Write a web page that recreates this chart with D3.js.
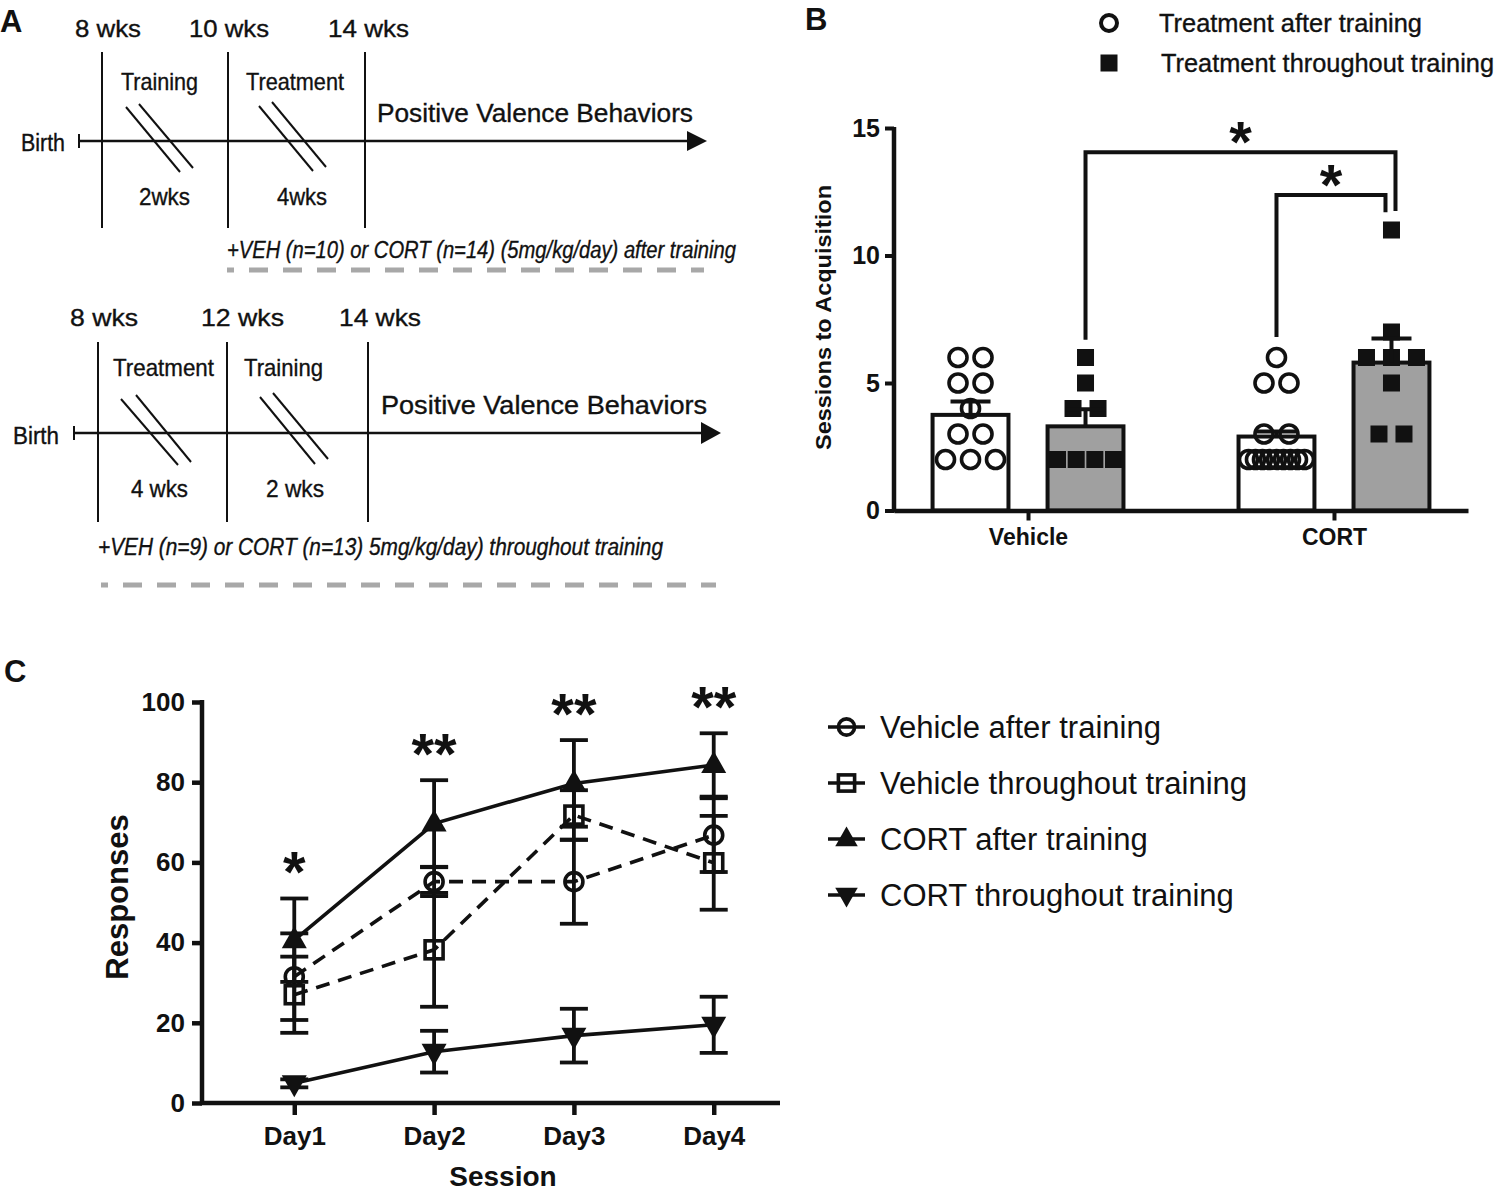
<!DOCTYPE html>
<html><head><meta charset="utf-8">
<script src="https://cdn.jsdelivr.net/npm/d3@7/dist/d3.min.js"></script>
<style>
html,body{margin:0;padding:0;background:#fff;}
svg{display:block;font-family:"Liberation Sans",Arial,Helvetica,sans-serif;}
</style></head><body>
<svg id="fig" width="1495" height="1192"></svg>
<script>
// ================= DATA =================
// Panel A (schematic)
const schemeStart = "Birth";
const schemeOutcome = "Positive Valence Behaviors";
const schemeTopWeeks = ["8 wks", "10 wks", "14 wks"];
const schemeTopPhases = ["Training", "Treatment"];
const schemeTopDurations = ["2wks", "4wks"];
const schemeTopNote = "+VEH (n=10) or CORT (n=14) (5mg/kg/day) after training";
const schemeBottomWeeks = ["8 wks", "12 wks", "14 wks"];
const schemeBottomPhases = ["Treatment", "Training"];
const schemeBottomDurations = ["4 wks", "2 wks"];
const schemeBottomNote = "+VEH (n=9) or CORT (n=13) 5mg/kg/day) throughout training";

// Panel B
const groupsB = ["Vehicle", "CORT"];
const seriesB = ["Treatment after training", "Treatment throughout training"];
const meanVehicleB = [3.75, 3.3];
const meanCortB = [2.9, 5.8];
const semVehicleB = [0.52, 0.67];
const semCortB = [0.2, 0.95];
const pointsVehicleAfterB = [6, 6, 5, 5, 4, 3, 3, 2, 2, 2];
const pointsVehicleThroughoutB = [6, 5, 4, 4, 2, 2, 2, 2];
const pointsCortAfterB = [6, 5, 5, 3, 3, 2, 2, 2, 2, 2, 2, 2, 2, 2];
const pointsCortThroughoutB = [11, 7, 6, 6, 6, 5, 3, 3];
const ticksB = [0, 5, 10, 15];
const yLabelB = "Sessions to Acquisition";
// significance brackets: [group, series] -> [group, series]
const sigFromB = [["Vehicle", "Treatment throughout training"], ["CORT", "Treatment after training"]];
const sigToB = [["CORT", "Treatment throughout training"], ["CORT", "Treatment throughout training"]];
const sigLevelB = [14.05, 12.37];
const sigFromBottomB = [6.7, 6.8];
const sigToBottomB = [11.75, 11.7];
const sigLabelB = ["*", "*"];

// Panel C
const daysC = ["Day1", "Day2", "Day3", "Day4"];
const seriesC = ["Vehicle after training", "Vehicle throughout training", "CORT after training", "CORT throughout training"];
const meanVehAfterC = [31.5, 55.2, 55.2, 66.8];
const semVehAfterC = [10.8, 3.6, 10.5, 9.2];
const meanVehThroughC = [27.0, 38.2, 71.8, 59.9];
const semVehThroughC = [9.5, 14.2, 6.2, 11.7];
const meanCortAfterC = [40.6, 69.7, 79.7, 84.3];
const semCortAfterC = [10.4, 10.8, 10.8, 7.9];
const meanCortThroughC = [4.9, 12.8, 16.8, 19.5];
const semCortThroughC = [1.0, 5.2, 6.7, 7.0];
const ticksC = [0, 20, 40, 60, 80, 100];
const sigC = ["*", "**", "**", "**"];
const xLabelC = "Session";
const yLabelC = "Responses";

// ================= DRAWING =================
const svg = d3.select("#fig");
const ink = "#111";

function fitText(g, s, x0, x1, baseline, size, opts = {}) {
  const t = g.append("text").attr("x", x0).attr("y", baseline)
    .attr("font-size", size).attr("fill", ink).text(s);
  if (opts.italic) t.attr("font-style", "italic");
  if (opts.bold) t.attr("font-weight", "bold");
  if (opts.heavy) t.attr("stroke", ink).attr("stroke-width", 0.35);
  t.attr("textLength", x1 - x0).attr("lengthAdjust", "spacingAndGlyphs");
  return t;
}

// panel letters
[["A", 0, 32], ["B", 805, 30], ["C", 4, 682]].forEach(([s, x, y]) =>
  svg.append("text").attr("x", x).attr("y", y).attr("font-size", 31)
    .attr("font-weight", "bold").attr("fill", ink).text(s));

// ---------- Panel A ----------
function drawScheme(L, weeks, phases, durations, note) {
  const g = svg.append("g");
  L.lineX.forEach(x => g.append("line").attr("x1", x).attr("x2", x)
    .attr("y1", L.lineY[0]).attr("y2", L.lineY[1]).attr("stroke", ink).attr("stroke-width", 2));
  g.append("line").attr("x1", L.birthX).attr("x2", L.arrowBase + 2)
    .attr("y1", L.axisY).attr("y2", L.axisY).attr("stroke", ink).attr("stroke-width", 2.5);
  g.append("line").attr("x1", L.birthX).attr("x2", L.birthX)
    .attr("y1", L.axisY - 7).attr("y2", L.axisY + 7).attr("stroke", ink).attr("stroke-width", 2);
  g.append("path").attr("d", `M${L.arrowBase},${L.axisY - L.arrowHalf}L${L.arrowTip},${L.axisY}L${L.arrowBase},${L.axisY + L.arrowHalf}Z`)
    .attr("fill", ink);
  L.slashes.forEach(s => g.append("line").attr("x1", s[0]).attr("y1", s[1]).attr("x2", s[2]).attr("y2", s[3])
    .attr("stroke", ink).attr("stroke-width", 2));
  const h = { heavy: true };
  weeks.forEach((w, i) => fitText(g, w, L.weekBox[i][0], L.weekBox[i][1], L.weekY, 24, h));
  phases.forEach((w, i) => fitText(g, w, L.phaseBox[i][0], L.phaseBox[i][1], L.phaseY, 24, h));
  durations.forEach((w, i) => fitText(g, w, L.durBox[i][0], L.durBox[i][1], L.durY, 24, h));
  fitText(g, schemeStart, L.birthBox[0], L.birthBox[1], L.birthY, 23, h);
  fitText(g, schemeOutcome, L.outBox[0], L.outBox[1], L.outY, 25, h);
  fitText(g, note, L.noteBox[0], L.noteBox[1], L.noteY, 23, { italic: true, heavy: true });
  g.append("line").attr("x1", L.dash[0]).attr("x2", L.dash[1]).attr("y1", L.dash[2]).attr("y2", L.dash[2])
    .attr("stroke", "#a8a8a8").attr("stroke-width", 5).attr("stroke-dasharray", "19,15").attr("stroke-dashoffset", 12);
}

drawScheme({
  lineX: [102, 228, 365], lineY: [52, 228], axisY: 141, birthX: 79,
  arrowBase: 687, arrowTip: 707, arrowHalf: 10,
  slashes: [[126, 107, 180, 172], [139, 104, 193, 168], [259, 106, 313, 171], [272, 102, 326, 167]],
  weekBox: [[75, 141], [189, 269], [328, 409]], weekY: 37,
  phaseBox: [[121, 198], [246, 344]], phaseY: 90,
  durBox: [[139, 190], [277, 327]], durY: 205,
  birthBox: [21, 65], birthY: 151,
  outBox: [377, 693], outY: 122,
  noteBox: [227, 736], noteY: 258,
  dash: [227, 704, 270]
}, schemeTopWeeks, schemeTopPhases, schemeTopDurations, schemeTopNote);

drawScheme({
  lineX: [98, 227, 368], lineY: [342, 522], axisY: 433, birthX: 74,
  arrowBase: 701, arrowTip: 721, arrowHalf: 11,
  slashes: [[121, 399, 178, 465], [136, 395, 191, 462], [260, 397, 315, 464], [273, 393, 328, 459]],
  weekBox: [[70, 138], [201, 284], [339, 421]], weekY: 326,
  phaseBox: [[113, 214], [244, 323]], phaseY: 376,
  durBox: [[131, 188], [266, 324]], durY: 497,
  birthBox: [13, 59], birthY: 444,
  outBox: [381, 707], outY: 414,
  noteBox: [98, 663], noteY: 555,
  dash: [101, 716, 585]
}, schemeBottomWeeks, schemeBottomPhases, schemeBottomDurations, schemeBottomNote);

// ---------- Panel B ----------
const gB = svg.append("g");
const yB = d3.scaleLinear().domain([0, 15]).range([510.5, 128]);
const xB = d3.scalePoint().domain(groupsB).range([894, 1468]).padding(0.438);
const xSubB = d3.scaleBand().domain(seriesB).range([-115, 115]).paddingInner(0.34).paddingOuter(0.17);
const fillB = d3.scaleOrdinal().domain(seriesB).range(["#ffffff", "#a0a0a0"]);
const meansB = { Vehicle: meanVehicleB, CORT: meanCortB };
const semsB = { Vehicle: semVehicleB, CORT: semCortB };
const pointsB = {
  Vehicle: [pointsVehicleAfterB, pointsVehicleThroughoutB],
  CORT: [pointsCortAfterB, pointsCortThroughoutB]
};
const cx = (g, s) => xB(g) + xSubB(s) + xSubB.bandwidth() / 2;

// bars
const barRows = groupsB.flatMap(g => seriesB.map((s, i) => ({ g, s, mean: meansB[g][i], sem: semsB[g][i], pts: pointsB[g][i] })));
gB.selectAll("rect.bar").data(barRows).join("rect").attr("class", "bar")
  .attr("x", d => xB(d.g) + xSubB(d.s)).attr("width", xSubB.bandwidth())
  .attr("y", d => yB(d.mean)).attr("height", d => yB(0) - yB(d.mean))
  .attr("fill", d => fillB(d.s)).attr("stroke", ink).attr("stroke-width", 4);

// scatter points (values with equal y spread symmetrically)
function spread(vals, maxW, step) {
  const counts = d3.rollup(vals, v => v.length, v => v);
  const seen = new Map();
  return vals.map(v => {
    const n = counts.get(v), k = seen.get(v) || 0; seen.set(v, k + 1);
    if (n === 1) return 0;
    const st = Math.min(step, maxW / (n - 1));
    return (k - (n - 1) / 2) * st;
  });
}
barRows.forEach(d => {
  const offs = spread(d.pts, 56, 25);
  const c = cx(d.g, d.s);
  d.pts.forEach((v, i) => {
    if (d.s === seriesB[0]) {
      gB.append("circle").attr("cx", c + offs[i]).attr("cy", yB(v)).attr("r", 9)
        .attr("fill", "none").attr("stroke", ink).attr("stroke-width", 3.6);
    } else {
      gB.append("rect").attr("x", c + offs[i] - 8.5).attr("y", yB(v) - 8.5)
        .attr("width", 17).attr("height", 17).attr("fill", ink);
    }
  });
});
// error bars
barRows.forEach(d => {
  const c = cx(d.g, d.s);
  gB.append("line").attr("x1", c).attr("x2", c).attr("y1", yB(d.mean)).attr("y2", yB(d.mean + d.sem))
    .attr("stroke", ink).attr("stroke-width", 4);
  gB.append("line").attr("x1", c - 20).attr("x2", c + 20).attr("y1", yB(d.mean + d.sem)).attr("y2", yB(d.mean + d.sem))
    .attr("stroke", ink).attr("stroke-width", 4);
});

// axes
const yAxB = gB.append("g").attr("transform", "translate(894,0)")
  .call(d3.axisLeft(yB).tickValues(ticksB).tickSize(9).tickSizeOuter(0).tickPadding(5).tickFormat(d3.format("d")));
yAxB.select(".domain").attr("stroke", ink).attr("stroke-width", 4.5).attr("d", `M0,${yB(0) + 2}V${yB(15) - 1}`);
yAxB.selectAll(".tick line").attr("stroke", ink).attr("stroke-width", 4);
yAxB.selectAll(".tick text").attr("font-size", 25).attr("font-weight", "bold").attr("fill", ink)
  .attr("font-family", "'Liberation Sans Narrow','Liberation Sans',Arial,sans-serif");
const xAxB = gB.append("g").attr("transform", `translate(0,${yB(0)})`)
  .call(d3.axisBottom(xB).tickSize(10).tickSizeOuter(0).tickPadding(8));
xAxB.select(".domain").attr("stroke", ink).attr("stroke-width", 4.5);
xAxB.selectAll(".tick line").attr("stroke", ink).attr("stroke-width", 4);
xAxB.selectAll(".tick text").attr("font-size", 23).attr("font-weight", "bold").attr("fill", ink);
gB.append("text").attr("transform", "translate(831,317.5) rotate(-90)").attr("text-anchor", "middle")
  .attr("font-size", 22).attr("font-weight", "bold").attr("fill", ink)
  .attr("textLength", 265).attr("lengthAdjust", "spacingAndGlyphs").text(yLabelB);

// significance brackets
sigLevelB.forEach((lvl, i) => {
  const nestShift = i === 0 ? 4 : -6;
  const x1 = cx(...sigFromB[i]);
  const x2 = cx(...sigToB[i]) + nestShift;
  gB.append("path").attr("d", `M${x1},${yB(sigFromBottomB[i])}V${yB(lvl)}H${x2}V${yB(sigToBottomB[i])}`)
    .attr("fill", "none").attr("stroke", ink).attr("stroke-width", 4).attr("stroke-linejoin", "miter");
  gB.append("text").attr("x", (x1 + x2) / 2).attr("y", yB(lvl) + 10).attr("text-anchor", "middle")
    .attr("font-size", 58).attr("font-weight", "bold").attr("fill", ink).text(sigLabelB[i]);
});

// legend B
const legB = gB.append("g");
legB.append("circle").attr("cx", 1109).attr("cy", 23).attr("r", 8).attr("fill", "none").attr("stroke", ink).attr("stroke-width", 4);
legB.append("rect").attr("x", 1100.5).attr("y", 54.5).attr("width", 17).attr("height", 17).attr("fill", ink);
fitText(legB, seriesB[0], 1159, 1422, 32, 25, { heavy: true });
fitText(legB, seriesB[1], 1161, 1494, 72, 25, { heavy: true });

// ---------- Panel C ----------
const gC = svg.append("g");
const yC = d3.scaleLinear().domain([0, 100]).range([1103, 702]);
const xC = d3.scalePoint().domain(daysC).range([202, 806]).padding(0.66);
const meansC = [meanVehAfterC, meanVehThroughC, meanCortAfterC, meanCortThroughC];
const semsC = [semVehAfterC, semVehThroughC, semCortAfterC, semCortThroughC];
const dashC = d3.scaleOrdinal().domain(seriesC).range(["14,9", "14,9", null, null]);
const symC = d3.scaleOrdinal().domain(seriesC).range(["circle", "square", "up", "down"]);

function marker(g, type, x, y, s) {
  if (type === "circle") {
    g.append("circle").attr("cx", x).attr("cy", y).attr("r", 9 * s).attr("fill", "none").attr("stroke", ink).attr("stroke-width", 3.6);
  } else if (type === "square") {
    g.append("rect").attr("x", x - 9 * s).attr("y", y - 9 * s).attr("width", 18 * s).attr("height", 18 * s)
      .attr("fill", "none").attr("stroke", ink).attr("stroke-width", 3.6);
  } else if (type === "up") {
    g.append("path").attr("d", `M${x},${y - 14 * s}L${x + 12.5 * s},${y + 8 * s}L${x - 12.5 * s},${y + 8 * s}Z`).attr("fill", ink);
  } else {
    g.append("path").attr("d", `M${x},${y + 14 * s}L${x + 12.5 * s},${y - 8 * s}L${x - 12.5 * s},${y - 8 * s}Z`).attr("fill", ink);
  }
}

const lineC = d3.line().x((d, i) => xC(daysC[i])).y(d => yC(d));
seriesC.forEach((s, k) => {
  gC.append("path").attr("d", lineC(meansC[k])).attr("fill", "none").attr("stroke", ink)
    .attr("stroke-width", 3.6).attr("stroke-dasharray", dashC(s));
});
seriesC.forEach((s, k) => {
  meansC[k].forEach((m, i) => {
    const x = xC(daysC[i]), e = semsC[k][i];
    gC.append("line").attr("x1", x).attr("x2", x).attr("y1", yC(m - e)).attr("y2", yC(m + e)).attr("stroke", ink).attr("stroke-width", 3.8);
    [m - e, m + e].forEach(v => gC.append("line").attr("x1", x - 14).attr("x2", x + 14).attr("y1", yC(v)).attr("y2", yC(v))
      .attr("stroke", ink).attr("stroke-width", 3.8));
  });
});
seriesC.forEach((s, k) => meansC[k].forEach((m, i) => marker(gC, symC(s), xC(daysC[i]), yC(m), 1)));

// significance stars C
sigC.forEach((t, i) => {
  const top = d3.max(meansC.map((m, k) => m[i] + semsC[k][i]));
  gC.append("text").attr("x", xC(daysC[i])).attr("y", yC(top + 9) + 30).attr("text-anchor", "middle")
    .attr("font-size", 58).attr("font-weight", "bold").attr("fill", ink).text(t);
});

// axes C
const yAxC = gC.append("g").attr("transform", "translate(202,0)")
  .call(d3.axisLeft(yC).tickValues(ticksC).tickSize(10).tickSizeOuter(0).tickPadding(7));
yAxC.select(".domain").attr("stroke", ink).attr("stroke-width", 4.5).attr("d", `M0,${yC(0) + 2}V${yC(100) - 2}`);
yAxC.selectAll(".tick line").attr("stroke", ink).attr("stroke-width", 4.5);
yAxC.selectAll(".tick text").attr("font-size", 26).attr("font-weight", "bold").attr("fill", ink);
const xAxC = gC.append("g").attr("transform", `translate(0,${yC(0)})`)
  .call(d3.axisBottom(xC).tickSize(12).tickSizeOuter(0).tickPadding(12));
xAxC.select(".domain").attr("stroke", ink).attr("stroke-width", 4.5).attr("d", "M200,0H780");
xAxC.selectAll(".tick line").attr("stroke", ink).attr("stroke-width", 4.5);
xAxC.selectAll(".tick text").attr("font-size", 26).attr("font-weight", "bold").attr("fill", ink);
gC.append("text").attr("x", 503).attr("y", 1186).attr("text-anchor", "middle")
  .attr("font-size", 28).attr("font-weight", "bold").attr("fill", ink).text(xLabelC);
gC.append("text").attr("transform", "translate(128,897) rotate(-90)").attr("text-anchor", "middle")
  .attr("font-size", 31).attr("font-weight", "bold").attr("fill", ink).text(yLabelC);

// legend C
const legRowY = d3.scalePoint().domain(seriesC).range([727, 895]);
seriesC.forEach(s => {
  const y = legRowY(s);
  gC.append("line").attr("x1", 828).attr("x2", 865).attr("y1", y).attr("y2", y).attr("stroke", ink).attr("stroke-width", 3.6);
  marker(gC, symC(s), 846.5, y, 0.9);
  gC.append("text").attr("x", 880).attr("y", y + 11).attr("font-size", 31).attr("fill", ink).text(s);
});
</script>
</body></html>
